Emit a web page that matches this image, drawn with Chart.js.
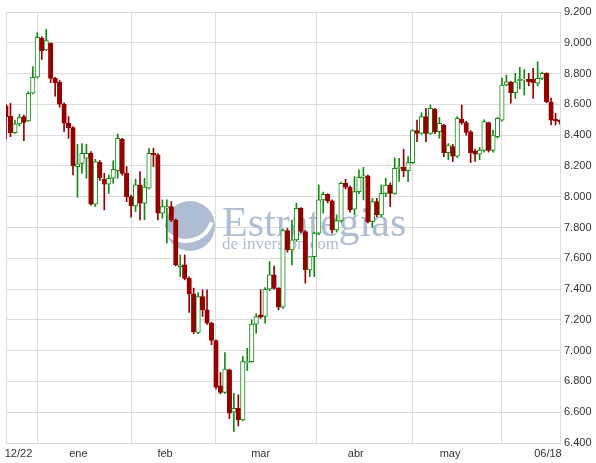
<!DOCTYPE html>
<html>
<head>
<meta charset="utf-8">
<script src="https://cdn.jsdelivr.net/npm/chart.js@4"></script>
<style>
  html, body { margin: 0; padding: 0; background: #fff; }
  canvas { display: block; }
</style>
</head>
<body>
<canvas id="chart" width="596" height="463"></canvas>
<script>
// daily candles, 12/22 -> 06/18
const opens = [
  8590, 8524, 8416, 8473, 8520, 8492, 8672, 8776, 9029, 8953,
  8996, 8769, 8743, 8602, 8477, 8449, 8195, 8217, 8250, 8282,
  7951, 8224, 8113, 8081, 8120, 8170, 8375, 8153, 8001, 7940,
  8077, 7958, 8055, 8282, 8272, 7893, 7925, 7936, 7849, 7546,
  7557, 7470, 7369, 7118, 7352, 7265, 7178, 7066, 6771, 6728,
  6875, 6600, 6626, 6550, 6922, 6929, 7172, 7232, 7222, 7399,
  7492, 7405, 7282, 7780, 7654, 7720, 7925, 7774, 7525, 7611,
  7763, 7979, 8016, 7973, 7784, 7843, 8087, 8062, 7919, 8033,
  8126, 8135, 7838, 7968, 7881, 8022, 8076, 8022, 8184, 8191,
  8169, 8221, 8429, 8412, 8520, 8412, 8568, 8422, 8466, 8286,
  8325, 8264, 8502, 8481, 8422, 8297, 8277, 8300, 8481, 8300,
  8390, 8498, 8726, 8743, 8676, 8754, 8758, 8765, 8765, 8737,
  8769, 8801, 8617, 8503, 8498
];
const highs = [
  8600, 8607, 8498, 8535, 8531, 8682, 8845, 9066, 9040, 9087,
  9000, 8775, 8755, 8610, 8520, 8455, 8340, 8345, 8340, 8293,
  8243, 8235, 8152, 8141, 8234, 8408, 8380, 8196, 8010, 8114,
  8163, 8120, 8315, 8315, 8280, 7979, 7979, 7968, 7855, 7622,
  7622, 7480, 7406, 7378, 7395, 7395, 7185, 7070, 6858, 6988,
  6880, 6723, 6713, 6962, 7016, 7200, 7240, 7395, 7410, 7579,
  7550, 7410, 7790, 7795, 7849, 7958, 7930, 7780, 7611, 7770,
  8077, 8030, 8020, 7980, 7882, 8095, 8114, 8070, 8131, 8174,
  8191, 8140, 7989, 7989, 8076, 8120, 8090, 8253, 8250, 8308,
  8260, 8435, 8498, 8546, 8574, 8596, 8575, 8515, 8470, 8345,
  8340, 8520, 8596, 8490, 8430, 8310, 8320, 8500, 8485, 8433,
  8515, 8770, 8790, 8750, 8801, 8840, 8827, 8801, 8834, 8877,
  8810, 8805, 8640, 8542, 8500
];
const lows = [
  8375, 8390, 8412, 8460, 8364, 8488, 8668, 8770, 8892, 8950,
  8740, 8654, 8581, 8423, 8379, 8141, 7996, 8152, 8120, 7945,
  7936, 8105, 7914, 8022, 8087, 8120, 8140, 7968, 7867, 7904,
  7850, 7850, 8050, 8196, 7850, 7860, 7698, 7838, 7550, 7481,
  7460, 7248, 7110, 7110, 7222, 7170, 7038, 6750, 6720, 6720,
  6558, 6474, 6511, 6545, 6871, 6925, 7113, 7210, 7178, 7390,
  7400, 7265, 7275, 7640, 7557, 7710, 7765, 7438, 7481, 7481,
  7755, 7893, 7960, 7763, 7770, 7835, 8050, 7900, 7881, 8020,
  7979, 7830, 7801, 7870, 7870, 8000, 7935, 8015, 8100, 8130,
  8098, 8215, 8357, 8405, 8357, 8405, 8410, 8380, 8260, 8240,
  8228, 8255, 8470, 8400, 8221, 8230, 8240, 8290, 8290, 8290,
  8380, 8490, 8720, 8607, 8639, 8700, 8660, 8720, 8639, 8720,
  8760, 8610, 8466, 8466, 8470
];
const closes = [
  8520, 8416, 8473, 8514, 8483, 8672, 8776, 9035, 8949, 9014,
  8769, 8741, 8602, 8477, 8449, 8202, 8213, 8282, 8282, 7951,
  8228, 8124, 8081, 8120, 8178, 8379, 8152, 8001, 7940, 8077,
  7958, 8062, 8282, 8272, 7893, 7936, 7936, 7849, 7557, 7557,
  7470, 7369, 7124, 7352, 7265, 7178, 7066, 6763, 6728, 6880,
  6594, 6626, 6550, 6929, 6929, 7172, 7222, 7217, 7399, 7492,
  7405, 7282, 7780, 7654, 7720, 7925, 7774, 7525, 7611, 7763,
  7979, 8016, 7973, 7784, 7843, 8087, 8062, 7914, 8033, 8126,
  8135, 7838, 7968, 7881, 8022, 8076, 8022, 8184, 8191, 8169,
  8221, 8429, 8412, 8520, 8412, 8574, 8422, 8476, 8286, 8336,
  8264, 8509, 8481, 8418, 8286, 8277, 8303, 8488, 8300, 8401,
  8509, 8726, 8747, 8676, 8747, 8763, 8763, 8747, 8741, 8769,
  8801, 8617, 8498, 8494, 8485
];

// month boundaries (candle index) and bottom labels
const monthLines = [0, 7, 28, 47, 69.5, 91, 111];
const xLabelPos = [2.8, 16.2, 35.6, 57, 78.3, 99.4, 121.3];
const xLabels = ['12/22', 'ene', 'feb', 'mar', 'abr', 'may', '06/18'];
const yMin = 6400, yMax = 9200, yStep = 200;

const UP = '#138a13';
const DOWN = '#950000';
const GRID = '#dcdcdc';

const isUp = opens.map((o, i) => closes[i] >= o);

const bodies = opens.map((o, i) => ({ x: i, y: [o, closes[i]] }));
const wicks = lows.map((l, i) => ({ x: i, y: [l, highs[i]] }));

// watermark behind the candles
const watermark = {
  id: 'watermark',
  beforeDatasetsDraw(chart) {
    const ctx = chart.ctx;
    ctx.save();
    ctx.fillStyle = '#aebdd1';
    ctx.beginPath();
    ctx.arc(190, 226, 25, 0, Math.PI * 2);
    ctx.fill();
    ctx.strokeStyle = '#ffffff';
    ctx.lineWidth = 4;
    ctx.beginPath();
    ctx.arc(186, 214, 27, Math.PI * 0.1, Math.PI * 0.85);
    ctx.stroke();
    ctx.fillStyle = '#aebdd1';
    ctx.font = '42px "Liberation Serif", serif';
    ctx.textBaseline = 'alphabetic';
    ctx.fillText('Estrategias', 222, 236);
    ctx.font = '17px "Liberation Serif", serif';
    ctx.fillText('de inversion.com', 222, 249);
    ctx.restore();
  }
};

new Chart(document.getElementById('chart'), {
  type: 'bar',
  data: {
    datasets: [
      {
        data: bodies,
        order: 0,
        grouped: false,
        barThickness: 4.5,
        borderWidth: 1,
        borderSkipped: false,
        backgroundColor: isUp.map(u => u ? '#ffffff' : DOWN),
        borderColor: isUp.map(u => u ? UP : DOWN),
        xAxisID: 'x',
        yAxisID: 'y'
      },
      {
        data: wicks,
        order: 1,
        grouped: false,
        barThickness: 1,
        borderWidth: 0,
        backgroundColor: isUp.map(u => u ? UP : DOWN),
        xAxisID: 'x',
        yAxisID: 'y'
      }
    ]
  },
  options: {
    responsive: false,
    animation: false,
    layout: { padding: { left: 6, top: 12, right: 0, bottom: 0 } },
    plugins: { legend: { display: false }, tooltip: { enabled: false } },
    scales: {
      x: {
        type: 'linear',
        position: 'bottom',
        offset: false,
        min: 0,
        max: opens.length - 1,
        afterBuildTicks: s => { s.ticks = monthLines.map(v => ({ value: v })); },
        afterFit: s => { s.height = 0; },
        ticks: { display: false },
        grid: { color: GRID, drawTicks: false, offset: false },
        border: { display: false }
      },
      xl: {
        type: 'linear',
        position: 'bottom',
        offset: false,
        min: 0,
        max: opens.length - 1,
        afterBuildTicks: s => { s.ticks = xLabelPos.map(v => ({ value: v })); },
        afterFit: s => { s.height = 20; },
        ticks: {
          autoSkip: false,
          maxRotation: 0,
          padding: 4,
          color: '#333',
          font: { family: '"Liberation Sans", Arial, sans-serif', size: 11 },
          callback: (v, i) => xLabels[i]
        },
        grid: { display: false, drawTicks: false, offset: false },
        border: { display: false }
      },
      y: {
        position: 'right',
        min: yMin,
        max: yMax,
        afterFit: s => { s.width = 36; },
        ticks: {
          stepSize: yStep,
          padding: 4,
          color: '#333',
          font: { family: '"Liberation Sans", Arial, sans-serif', size: 11 },
          callback: v => (v / 1000).toFixed(3)
        },
        grid: { color: GRID, drawTicks: false },
        border: { color: GRID }
      }
    }
  },
  plugins: [watermark]
});
</script>
</body>
</html>
